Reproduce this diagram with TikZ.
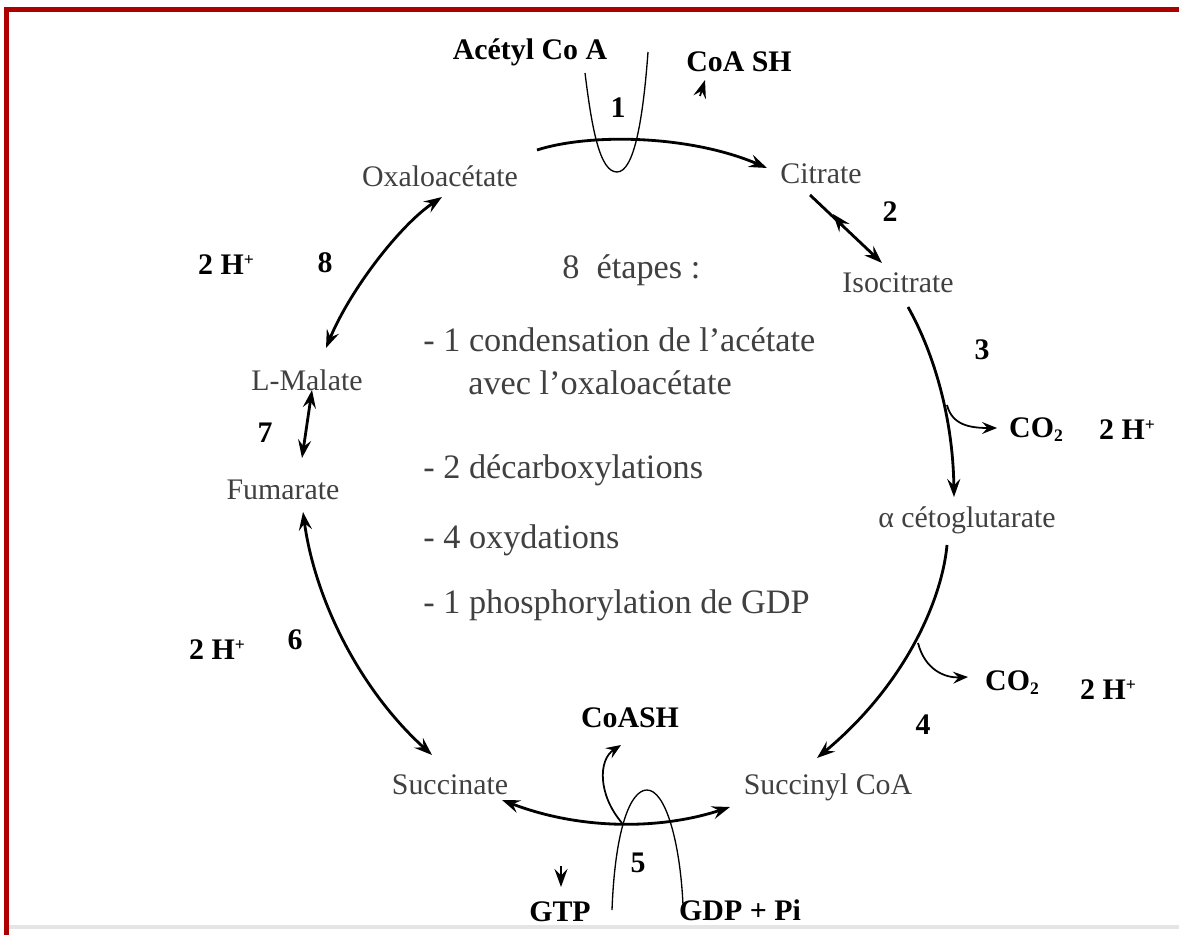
\documentclass[tikz,border=0pt]{standalone}
\usepackage{fontspec}
\setmainfont{Liberation Serif}
\usetikzlibrary{arrows.meta,calc}
\definecolor{framered}{rgb}{0.68,0,0}
\definecolor{framegrey}{rgb}{0.9,0.9,0.9}
\definecolor{labelgrey}{rgb}{0.25,0.25,0.25}
\tikzset{species/.style={text=labelgrey, font=\fontsize{17}{20}\selectfont, inner sep=0pt}}
\tikzset{cofactor/.style={font=\fontsize{17}{20}\selectfont\bfseries, inner sep=0pt}}
\tikzset{stepnum/.style={font=\fontsize{17}{20}\selectfont\bfseries, inner sep=0pt}}
\tikzset{legend/.style={text=labelgrey, font=\fontsize{19.5}{23}\selectfont, inner sep=0pt, anchor=west}}
\tikzset{rtip/.tip={Stealth[length=3.6mm, width=2.6mm, inset=1.3mm]}}
\tikzset{stip/.tip={Stealth[length=3mm, width=2.4mm, inset=1.1mm]}}
\tikzset{react/.style={line width=1.6pt, -{rtip}}}
\tikzset{bireact/.style={line width=1.6pt, {rtip}-{rtip}}}
\tikzset{loopline/.style={line width=0.75pt}}
\tikzset{side/.style={line width=1pt, -{stip}}}
\newcommand{\sub}[1]{\raisebox{-0.3ex}{\fontsize{10}{12}\selectfont #1}}
\newcommand{\sups}[1]{\raisebox{0.7ex}{\fontsize{10}{12}\selectfont #1}}

\begin{document}
\begin{tikzpicture}[x=0.02cm, y=-0.02cm]
        \useasboundingbox (0,0) rectangle (1179,935);
        % frame
        \fill[framered] (4,7) rectangle (1179,12);
        \fill[framered] (4,7) rectangle (9,935);
        \fill[framegrey] (9,925) rectangle (1179,929);

        % metabolites
        \node[species] (oxalo) at (440,176) {Oxaloacétate};
        \node[species] (citr) at (821,174) {Citrate};
        \node[species] (isoc) at (898,283) {Isocitrate};
        \node[species] (keto) at (967,520) {α cétoglutarate};
        \node[species] (succoa) at (828,787) {Succinyl CoA};
        \node[species] (succ) at (450,785) {Succinate};
        \node[species] (fuma) at (283,490) {Fumarate};
        \node[species] (mala) at (307,380) {L-Malate};

        % cofactors
        \node[cofactor] (acoa) at (530,52) {Acétyl Co A};
        \node[cofactor] (coash1) at (739,62) {CoA SH};
        \node[cofactor] (coa) at (1036,430) {CO\sub{2}};
        \node[cofactor] (hb) at (1127,430) {2 H\sups{+}};
        \node[cofactor] (cob) at (1012,683) {CO\sub{2}};
        \node[cofactor] (hc) at (1108,690) {2 H\sups{+}};
        \node[cofactor] (coash2) at (630,718) {CoASH};
        \node[cofactor] (gtp) at (560,912) {GTP};
        \node[cofactor] (gdp) at (740,910) {GDP + Pi};
        \node[cofactor] (hd) at (217,650) {2 H\sups{+}};
        \node[cofactor] (ha) at (226,265) {2 H\sups{+}};

        % step numbers
        \node[stepnum] (s1) at (618,108) {1};
        \node[stepnum] (s2) at (890,212) {2};
        \node[stepnum] (s3) at (982,350) {3};
        \node[stepnum] (s4) at (923,725) {4};
        \node[stepnum] (s5) at (638,863) {5};
        \node[stepnum] (s6) at (295,640) {6};
        \node[stepnum] (s7) at (265,433) {7};
        \node[stepnum] (s8) at (325,263) {8};

        % legend
        \node[legend] (lg0) at (562,270) {8~ étapes :};
        \node[legend] (lg1) at (423,340) {- 1 condensation de l’acétate};
        \node[legend] (lg2) at (468,383) {avec l’oxaloacétate};
        \node[legend] (lg3) at (423,470) {- 2 décarboxylations};
        \node[legend] (lg4) at (423,540) {- 4 oxydations};
        \node[legend] (lg5) at (423,605) {- 1 phosphorylation de GDP};

        % arc end points
        \coordinate (p1a) at (537,150);
        \coordinate (p1b) at (767,168);
        \coordinate (p2a) at (810,195);
        \coordinate (p2m) at (833,214);
        \coordinate (p2b) at (882,263);
        \coordinate (p3a) at (908,307);
        \coordinate (p3x) at (947,405);
        \coordinate (p3b) at (954,497);
        \coordinate (p3c) at (997,428);
        \coordinate (p4a) at (947,545);
        \coordinate (p4x) at (918,643);
        \coordinate (p4b) at (817,758);
        \coordinate (p4c) at (968,677);
        \coordinate (p5a) at (730,807);
        \coordinate (p5b) at (502,800);
        \coordinate (p5x) at (622,823);
        \coordinate (p5c) at (621,745);
        \coordinate (p6a) at (303,512);
        \coordinate (p6b) at (432,755);
        \coordinate (p7a) at (312,390);
        \coordinate (p7b) at (302,458);
        \coordinate (p8a) at (442,197);
        \coordinate (p8b) at (326,348);

        % main cycle
        \draw[react] (p1a) .. controls (590,133) and (690,135) .. (p1b);
        \draw[react] (p2a) -- (p2b);
        \draw[line width=1.6pt, -{rtip}] ($(p2a)!0.45!(p2b)$) -- (p2m);
        \draw[react] (p3a) .. controls (935,355) and (953,420) .. (p3b);
        \draw[react] (p4a) .. controls (942,600) and (905,685) .. (p4b);
        \draw[bireact] (p5b) .. controls (580,830) and (660,830) .. (p5a);
        \draw[bireact] (p6a) .. controls (315,600) and (360,690) .. (p6b);
        \draw[bireact] (p7a) -- (p7b);
        \draw[bireact] (p8a) .. controls (400,225) and (350,290) .. (p8b);

        % side branches
        \draw[side] (p3x) .. controls (952,425) and (970,428) .. (p3c);
        \draw[side] (p4x) .. controls (925,670) and (945,678) .. (p4c);
        \draw[side] (p5x) .. controls (598,795) and (598,760) .. (p5c);
        \draw[loopline] (585,73) .. controls (592,130) and (600,172) .. (617,172)
            .. controls (634,172) and (643,120) .. (648,52);
        \draw[loopline] (612,910) .. controls (615,830) and (630,790) .. (647,790)
            .. controls (665,790) and (680,840) .. (683,905);
        \draw[line width=1pt, -{rtip}] (700,96) -- (705,80);
        \draw[line width=1pt, -{rtip}] (561,866) -- (561,887);
\end{tikzpicture}
\end{document}
